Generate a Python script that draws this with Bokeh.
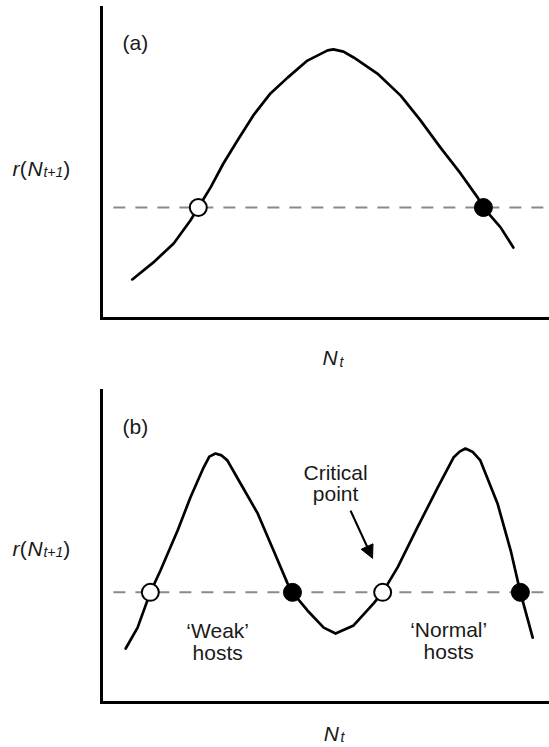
from bokeh.plotting import figure
from bokeh.models import Range1d, FixedTicker, Label, Arrow, NormalHead
from bokeh.layouts import column
from bokeh.embed import file_html
from bokeh.resources import INLINE

# ---------------- data (arbitrary units) ----------------
# panel (a): single-humped r(N_t+1) curve
a_nt = [0.70, 1.18, 1.64, 2.02, 2.20, 2.48, 2.77, 3.09, 3.45, 3.84, 4.23, 4.68,
        5.14, 5.27, 5.50, 5.73, 6.27, 6.80, 7.25, 7.70, 8.16, 8.55, 8.68, 9.07, 9.36]
a_r = [1.26, 1.81, 2.42, 3.16, 3.58, 4.23, 5.00, 5.74, 6.55, 7.26, 7.77, 8.32,
       8.65, 8.68, 8.61, 8.42, 7.90, 7.19, 6.39, 5.52, 4.68, 3.90, 3.58, 2.94, 2.29]
a_level = 3.58
a_level_nt = [0.27, 10.18]
a_unstable_nt = [2.20]
a_stable_nt = [8.68]

# panel (b): double-humped curve
b_nt = [0.55, 0.82, 1.11, 1.34, 1.73, 2.02, 2.32, 2.45, 2.59, 2.73, 2.86, 3.16,
        3.55, 3.91, 4.23, 4.34, 4.68, 5.05, 5.32, 5.73, 6.18, 6.39, 6.73, 7.18,
        7.64, 8.00, 8.14, 8.27, 8.43, 8.61, 9.00, 9.30, 9.52, 9.80]
b_r = [1.73, 2.40, 3.53, 4.23, 5.51, 6.57, 7.53, 7.88, 7.98, 7.92, 7.76, 7.02,
       6.06, 4.87, 3.81, 3.53, 2.95, 2.40, 2.21, 2.47, 3.17, 3.53, 4.33, 5.61,
       6.89, 7.85, 8.04, 8.14, 8.04, 7.76, 6.38, 4.87, 3.53, 2.08]
b_level = 3.53
b_level_nt = [0.27, 10.18]
b_unstable_nt = [1.11, 6.39]
b_stable_nt = [4.34, 9.52]

panel_tags = ["(a)", "(b)"]
y_label_parts = ["r", "(", "N", "t+1", ")"]
x_label_parts = ["N", "t"]
critical_text = ["Critical", "point"]
weak_text = ["\u2018Weak\u2019", "hosts"]
normal_text = ["\u2018Normal\u2019", "hosts"]

FONT = "Liberation Sans"
TXT = "#1a1a1a"

# ---------------- layout (pixels) ----------------
W = 549
ORIGIN_X = 101      # pixel column of N_t = 0
PX_X = 44.0         # pixels per N_t unit


def make_fig(height, origin_y, px_y, y_top, x_end):
    # origin_y: pixel row (from the figure top) of r = 0; px_y: pixels per r unit
    x_rng = Range1d(-ORIGIN_X / PX_X, (W - ORIGIN_X) / PX_X)
    y_rng = Range1d(-(height - origin_y) / px_y, origin_y / px_y)
    p = figure(width=W, height=height, x_range=x_rng, y_range=y_rng,
               output_backend="svg", toolbar_location=None,
               min_border_left=0, min_border_right=0,
               min_border_top=0, min_border_bottom=0)
    p.outline_line_color = None
    p.grid.visible = False
    p.background_fill_color = "white"
    p.border_fill_color = "white"
    for ax in (p.xaxis[0], p.yaxis[0]):
        ax.ticker = FixedTicker(ticks=[])
        ax.major_tick_line_color = None
        ax.minor_tick_line_color = None
        ax.major_tick_in = 0
        ax.major_tick_out = 0
        ax.minor_tick_in = 0
        ax.minor_tick_out = 0
        ax.major_label_standoff = 0
        ax.major_label_text_font_size = "0px"
        ax.axis_line_width = 3
        ax.axis_line_color = "black"
        ax.axis_line_cap = "square"
        ax.fixed_location = 0
    p.xaxis[0].bounds = (0, x_end)
    p.yaxis[0].bounds = (0, y_top)
    return p


def lab(p, x, y, text, size="21px", style="normal", align="left"):
    p.add_layout(Label(x=x, y=y, text=text, text_font=FONT, text_font_size=size,
                       text_font_style=style, text_align=align,
                       text_baseline="alphabetic", text_color=TXT))


def draw_panel(p, nt, r, level_nt, level, unstable, stable):
    p.line(level_nt, [level, level], line_color="#8a8a8a", line_width=2, line_dash="12 10")
    p.line(nt, r, line_color="black", line_width=2.7, line_join="round", line_cap="round")
    p.scatter(unstable, [level] * len(unstable), marker="circle", size=17,
              fill_color="white", line_color="black", line_width=2)
    p.scatter(stable, [level] * len(stable), marker="circle", size=18,
              fill_color="black", line_color="black", line_width=1)


def y_label(p, base_y, sub_y):
    xs = [-2.02, -1.86, -1.68, -1.32, -0.87]
    styles = ["italic", "normal", "italic", "italic", "normal"]
    for i, part in enumerate(y_label_parts):
        if i == 3:
            lab(p, xs[i], sub_y, part, size="14px", style=styles[i])
        else:
            lab(p, xs[i], base_y, part, style=styles[i])


# ---------------- panel (a) ----------------
pa = make_fig(380, 318, 31.0, 10.03, 10.14)
draw_panel(pa, a_nt, a_r, a_level_nt, a_level, a_unstable_nt, a_stable_nt)
lab(pa, 0.48, 8.90, panel_tags[0])
y_label(pa, 4.84, 4.71)
lab(pa, 5.02, -1.26, x_label_parts[0], style="italic")
lab(pa, 5.41, -1.39, x_label_parts[1], size="14px", style="italic")

# ---------------- panel (b) ----------------
pb = make_fig(366, 322, 31.2, 10.0, 10.14)
draw_panel(pb, b_nt, b_r, b_level_nt, b_level, b_unstable_nt, b_stable_nt)
lab(pb, 0.48, 8.85, panel_tags[1])
y_label(pb, 4.94, 4.81)
lab(pb, 5.05, -0.99, x_label_parts[0], style="italic")
lab(pb, 5.43, -1.09, x_label_parts[1], size="14px", style="italic")
lab(pb, 5.32, 7.37, critical_text[0], align="center")
lab(pb, 5.32, 6.70, critical_text[1], align="center")
lab(pb, 2.64, 2.31, weak_text[0], align="center")
lab(pb, 2.64, 1.60, weak_text[1], align="center")
lab(pb, 7.89, 2.34, normal_text[0], align="center")
lab(pb, 7.89, 1.63, normal_text[1], align="center")
pb.add_layout(Arrow(end=NormalHead(size=13, fill_color="black", line_color="black"),
                    x_start=5.66, y_start=6.15, x_end=6.16, y_end=4.62,
                    line_color="black", line_width=2.2))

layout = column(pa, pb)
open("out.html", "w").write(file_html(layout, INLINE))
